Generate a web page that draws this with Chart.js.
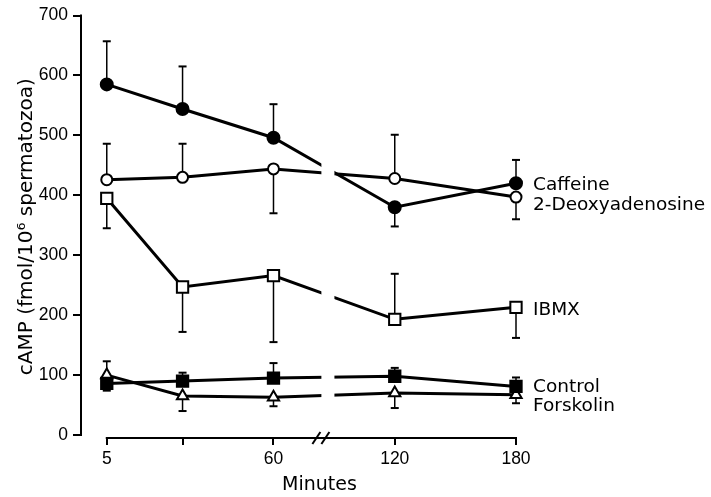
<!DOCTYPE html>
<html><head><meta charset="utf-8">
<script src="https://cdn.jsdelivr.net/npm/chart.js@4"></script>
<style>html,body{margin:0;padding:0;background:#fff}#wrap{width:711px;height:497px;position:relative}</style>
</head><body><div id="wrap"><canvas id="c"></canvas></div>
<script>
// ---- data ----
const minutes = [5, 30, 60, 120, 180];
const tickLabels = ['5', '', '60', '120', '180'];
const yTicks = [0, 100, 200, 300, 400, 500, 600, 700];
const seriesNames = ['Caffeine', '2-Deoxyadenosine', 'IBMX', 'Control', 'Forskolin'];
const xTitle = 'Minutes';
const yTitle = 'cAMP (fmol/10\u2076 spermatozoa)';

const caffeine   = [585, 544, 496, 380, 420];
const caffeineHi = [657, 615, 552, null, 459];
const caffeineLo = [null, null, null, 348, null];

const deoxy   = [426, 430, 444, 428, 397];
const deoxyHi = [486, 486, null, 501, null];
const deoxyLo = [null, null, 370, null, 360];

const ibmx   = [395, 247, 266, 193, 213];
const ibmxHi = [null, null, null, 269, null];
const ibmxLo = [345, 172, 155, null, 162];

const control   = [86, 90, 95, 98, 81];
const controlHi = [null, 104, 120, 112, 96];
const controlLo = [74, null, null, null, null];

const forskolin   = [100, 65, 63, 70, 67];
const forskolinHi = [123, null, null, null, null];
const forskolinLo = [null, 40, 48, 45, 53];

// ---- broken time axis: 5-60 min at one scale, 120-180 min compressed after the break ----
function axisPos(m) { return m <= 60 ? m : 100 + (m - 120) * 2 / 3; }
const breakFrom = 75.8, breakTo = 80.1;   // axis units where the lines are interrupted

// label anchors (value units) for the direct series labels on the right
const labelAnchor = [417, 383, 208, 80, 48];

const NUMFONT = "'Liberation Sans', Arial, Helvetica, sans-serif";
const TXTFONT = "'DejaVu Sans', 'Liberation Sans', sans-serif";
Chart.defaults.font.family = NUMFONT;
Chart.defaults.color = '#000';

function mk(values) { return minutes.map((m, i) => ({ x: axisPos(m), y: values[i] })); }

const styles = [
  { pointStyle: 'circle',   radius: 6,   fill: '#000' },
  { pointStyle: 'circle',   radius: 5.5, fill: '#fff' },
  { pointStyle: 'rect',     radius: 8,   fill: '#fff' },
  { pointStyle: 'rect',     radius: 8,   fill: '#000' },
  { pointStyle: 'triangle', radius: 6.5, fill: '#fff' }
];
const allVals = [caffeine, deoxy, ibmx, control, forskolin];
const allHi = [caffeineHi, deoxyHi, ibmxHi, controlHi, forskolinHi];
const allLo = [caffeineLo, deoxyLo, ibmxLo, controlLo, forskolinLo];

const datasets = seriesNames.map((n, i) => ({
  label: n,
  data: mk(allVals[i]),
  errHi: allHi[i],
  errLo: allLo[i],
  borderColor: '#000',
  borderWidth: 3,
  pointStyle: styles[i].pointStyle,
  pointRadius: styles[i].radius,
  pointBackgroundColor: styles[i].fill,
  pointBorderColor: '#000',
  pointBorderWidth: 2,
  tension: 0,
  fill: false,
  clip: false
}));

const errorBars = {
  id: 'errorBars',
  beforeDatasetsDraw(chart) {
    const ctx = chart.ctx, y = chart.scales.y;
    ctx.save();
    ctx.strokeStyle = '#000';
    chart.data.datasets.forEach((ds, di) => {
      const meta = chart.getDatasetMeta(di);
      meta.data.forEach((pt, j) => {
        const y0 = y.getPixelForValue(ds.data[j].y);
        [ds.errHi[j], ds.errLo[j]].forEach(e => {
          if (e === null || e === undefined) return;
          const ye = y.getPixelForValue(e);
          ctx.lineWidth = 1.5;
          ctx.beginPath(); ctx.moveTo(pt.x, y0); ctx.lineTo(pt.x, ye); ctx.stroke();
          ctx.lineWidth = 2;
          ctx.beginPath(); ctx.moveTo(pt.x - 4, ye); ctx.lineTo(pt.x + 4, ye); ctx.stroke();
        });
      });
    });
    ctx.restore();
  }
};

const decor = {
  id: 'decor',
  afterDatasetsDraw(chart) {
    const ctx = chart.ctx, xs = chart.scales.x, ys = chart.scales.y, a = chart.chartArea;
    ctx.save();
    // interruption of the lines at the axis break
    const b0 = xs.getPixelForValue(breakFrom), b1 = xs.getPixelForValue(breakTo);
    ctx.fillStyle = '#fff';
    ctx.fillRect(b0, a.top, b1 - b0, a.bottom - a.top - 4);
    // y axis line
    ctx.strokeStyle = '#000';
    ctx.lineWidth = 2;
    ctx.beginPath();
    ctx.moveTo(a.left, ys.getPixelForValue(0) + 1);
    ctx.lineTo(a.left, ys.getPixelForValue(700) - 1);
    ctx.stroke();
    // x axis line
    const xa = xs.getPixelForValue(axisPos(minutes[0])), xb = xs.getPixelForValue(axisPos(minutes[minutes.length - 1]));
    ctx.beginPath();
    ctx.moveTo(xa - 1, a.bottom);
    ctx.lineTo(xb + 1, a.bottom);
    ctx.stroke();
    // break marks
    const bc = xs.getPixelForValue(breakFrom);
    [-5, 4].forEach(dx => {
      ctx.beginPath();
      ctx.moveTo(bc + dx - 4, a.bottom + 6);
      ctx.lineTo(bc + dx + 4, a.bottom - 6);
      ctx.stroke();
    });
    ctx.fillStyle = '#000';
    // x axis title
    ctx.font = '19px ' + TXTFONT;
    ctx.textAlign = 'center';
    ctx.textBaseline = 'middle';
    ctx.fillText(xTitle, (xa + xb) / 2 + 8, 485);
    // direct series labels
    ctx.font = '18.5px ' + TXTFONT;
    ctx.textAlign = 'left';
    seriesNames.forEach((n, i) => {
      ctx.fillText(n, a.right + 17, ys.getPixelForValue(labelAnchor[i]));
    });
    ctx.restore();
  }
};

new Chart(document.getElementById('c'), {
  type: 'line',
  data: { datasets },
  options: {
    responsive: true,
    maintainAspectRatio: false,
    animation: false,
    layout: { padding: { top: 15, right: 195, bottom: 0, left: 0 } },
    plugins: { legend: { display: false }, tooltip: { enabled: false } },
    scales: {
      x: {
        type: 'linear',
        min: -3.5,
        max: 140,
        afterBuildTicks: s => { s.ticks = minutes.map(m => ({ value: axisPos(m) })); },
        ticks: { autoSkip: false, maxRotation: 0, font: { size: 17.5 }, color: '#000', padding: 4,
                 callback: (v, i) => tickLabels[i] },
        grid: { drawOnChartArea: false, drawTicks: true, tickLength: 7, color: '#000', lineWidth: 2 },
        border: { display: false },
        title: { display: false },
        afterFit: s => { s.height = 59; }
      },
      y: {
        type: 'linear',
        min: -5,
        max: 700,
        afterBuildTicks: s => { s.ticks = yTicks.map(v => ({ value: v })); },
        ticks: { font: { size: 17.5 }, color: '#000', padding: 5 },
        grid: { drawOnChartArea: false, drawTicks: true, tickLength: 8, color: '#000', lineWidth: 2 },
        border: { display: false },
        title: { display: true, text: yTitle, font: { size: 20, family: TXTFONT }, color: '#000', padding: { top: 15, bottom: 0 } },
        afterFit: s => { s.width = 81; }
      }
    }
  },
  plugins: [errorBars, decor]
});
</script>
</body></html>
